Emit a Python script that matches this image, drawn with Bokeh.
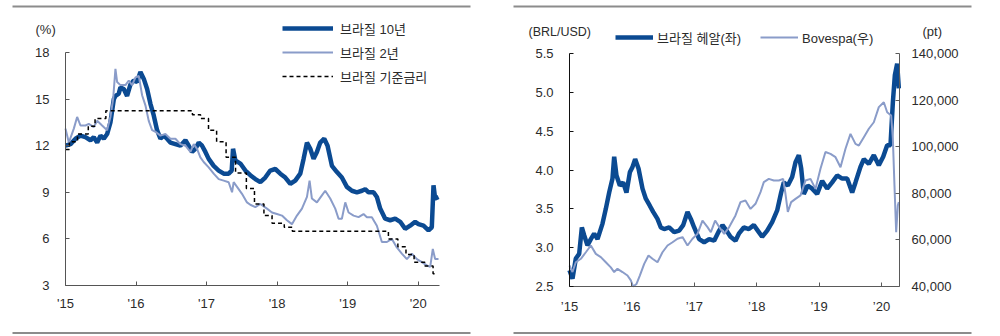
from bokeh.plotting import figure
from bokeh.models import (Range1d, LinearAxis, FixedTicker, Legend, LegendItem, Label,
                          BoxAnnotation, NumeralTickFormatter)
from bokeh.layouts import row
from bokeh.embed import file_html
from bokeh.resources import INLINE
import pandas as pd

# ---------------- data ----------------
year_ticks = [2015, 2016, 2017, 2018, 2019, 2020]
year_labels_l = ["'15", "'16", "'17", "'18", "'19", "'20"]
year_labels_r = ["\u201915", "\u201916", "\u201917", "\u201918", "\u201919", "\u201920"]

# Brazil 10Y yield (%)
y10_t = [2015.000, 2015.071, 2015.142, 2015.212, 2015.283, 2015.354, 2015.401, 2015.449, 2015.496, 2015.543,
         2015.590, 2015.637, 2015.685, 2015.708, 2015.755, 2015.779, 2015.826, 2015.873, 2015.921, 2015.968,
         2016.015, 2016.062, 2016.110, 2016.157, 2016.204, 2016.251, 2016.298, 2016.346, 2016.393, 2016.440,
         2016.487, 2016.558, 2016.629, 2016.700, 2016.747, 2016.794, 2016.841, 2016.889, 2016.936, 2016.983,
         2017.030, 2017.101, 2017.172, 2017.243, 2017.313, 2017.356, 2017.375, 2017.408, 2017.479, 2017.550,
         2017.620, 2017.691, 2017.762, 2017.832, 2017.903, 2017.974, 2018.045, 2018.116, 2018.187, 2018.257,
         2018.328, 2018.375, 2018.423, 2018.470, 2018.517, 2018.564, 2018.611, 2018.668, 2018.715, 2018.777,
         2018.848, 2018.918, 2018.989, 2019.060, 2019.131, 2019.202, 2019.249, 2019.296, 2019.367, 2019.414,
         2019.461, 2019.532, 2019.603, 2019.674, 2019.745, 2019.815, 2019.886, 2019.957, 2020.004, 2020.075,
         2020.146, 2020.193, 2020.217, 2020.240, 2020.288]
y10_v = [12.0, 12.1, 12.45, 12.65, 12.55, 12.35, 12.55, 12.2, 12.65, 12.45,
         12.75, 13.5, 15.0, 15.2, 15.35, 15.75, 15.65, 15.2, 15.95, 16.2,
         16.1, 16.75, 16.3, 15.65, 14.7, 13.95, 13.0, 12.45, 12.65, 12.45,
         12.2, 12.1, 12.0, 12.35, 12.0, 11.6, 11.8, 12.2, 12.0, 11.6,
         11.15, 10.7, 10.4, 10.2, 10.2, 10.4, 11.8, 11.05, 10.85, 10.4,
         10.1, 9.85, 9.65, 9.95, 10.4, 10.5, 10.2, 9.95, 9.55, 9.75,
         10.2, 11.15, 12.2, 11.8, 11.15, 11.6, 12.2, 12.45, 12.0, 10.7,
         10.3, 9.95, 9.35, 9.1, 9.0, 9.1, 9.2, 9.0, 9.0, 8.7,
         7.95, 7.3, 7.2, 7.3, 7.1, 6.65, 6.85, 7.1, 6.95, 6.85,
         6.55, 6.75, 9.45, 8.6, 8.7]

# Brazil 2Y yield (%)
y2_t = [2015.000, 2015.047, 2015.118, 2015.165, 2015.212, 2015.283, 2015.330, 2015.401, 2015.449, 2015.519,
        2015.590, 2015.637, 2015.675, 2015.708, 2015.732, 2015.779, 2015.850, 2015.897, 2015.944, 2015.992,
        2016.039, 2016.086, 2016.133, 2016.180, 2016.228, 2016.275, 2016.346, 2016.416, 2016.487, 2016.558,
        2016.629, 2016.700, 2016.771, 2016.818, 2016.865, 2016.912, 2016.959, 2017.030, 2017.101, 2017.172,
        2017.243, 2017.313, 2017.361, 2017.384, 2017.432, 2017.502, 2017.573, 2017.620, 2017.691, 2017.762,
        2017.856, 2017.927, 2017.998, 2018.069, 2018.139, 2018.210, 2018.281, 2018.352, 2018.423, 2018.460,
        2018.493, 2018.564, 2018.635, 2018.682, 2018.753, 2018.824, 2018.871, 2018.918, 2018.966, 2019.013,
        2019.084, 2019.154, 2019.225, 2019.273, 2019.343, 2019.414, 2019.485, 2019.556, 2019.627, 2019.697,
        2019.768, 2019.839, 2019.910, 2019.981, 2020.052, 2020.122, 2020.170, 2020.207, 2020.240, 2020.288]
y2_v = [13.1, 12.2, 13.1, 13.85, 13.3, 13.3, 13.4, 13.2, 13.6, 13.3,
        13.0, 13.85, 15.0, 16.95, 16.1, 15.9, 15.9, 16.2, 15.9, 16.4,
        16.5, 15.25, 14.6, 13.6, 13.0, 12.9, 12.65, 12.75, 12.45, 12.45,
        12.1, 12.0, 11.6, 12.1, 11.8, 11.25, 10.95, 10.6, 10.2, 9.85,
        9.75, 9.65, 9.0, 9.65, 9.35, 8.9, 8.35, 8.2, 8.05, 8.25,
        7.95, 7.7, 7.6, 7.5, 7.2, 6.95, 7.5, 7.95, 8.7, 9.75,
        8.6, 8.35, 8.8, 9.1, 8.6, 7.95, 7.3, 7.3, 8.35, 7.7,
        7.5, 7.4, 7.6, 7.4, 7.4, 6.85, 5.8, 5.8, 6.0, 5.45,
        5.05, 4.7, 5.05, 4.7, 4.5, 4.3, 4.2, 5.35, 4.7, 4.7]

# Brazil policy rate (%)
selic_dates = ["2015-01-01", "2015-01-21", "2015-03-04", "2015-04-29", "2015-06-03", "2015-07-29",
               "2016-10-19", "2016-11-30", "2017-01-11", "2017-02-22", "2017-04-12", "2017-05-31",
               "2017-07-26", "2017-09-06", "2017-10-25", "2017-12-06", "2018-02-07", "2018-03-21",
               "2019-07-31", "2019-09-18", "2019-10-30", "2019-12-11", "2020-02-05", "2020-03-18",
               "2020-04-01"]
selic_v = [11.75, 12.25, 12.75, 13.25, 13.75, 14.25,
           14.0, 13.75, 13.0, 12.25, 11.25, 10.25,
           9.25, 8.25, 7.5, 7.0, 6.75, 6.5,
           6.0, 5.5, 5.0, 4.5, 4.25, 3.75,
           3.75]

# BRL/USD
brl_t = [2015.000, 2015.048, 2015.101, 2015.155, 2015.198, 2015.235, 2015.288, 2015.342, 2015.395, 2015.449,
         2015.529, 2015.582, 2015.636, 2015.689, 2015.716, 2015.753, 2015.807, 2015.860, 2015.913, 2015.967,
         2016.010, 2016.052, 2016.106, 2016.170, 2016.223, 2016.287, 2016.341, 2016.410, 2016.464, 2016.517,
         2016.597, 2016.677, 2016.757, 2016.822, 2016.891, 2016.944, 2016.998, 2017.078, 2017.158, 2017.238,
         2017.318, 2017.399, 2017.452, 2017.532, 2017.580, 2017.660, 2017.714, 2017.794, 2017.874, 2017.954,
         2018.034, 2018.087, 2018.168, 2018.248, 2018.328, 2018.392, 2018.435, 2018.499, 2018.568, 2018.622,
         2018.675, 2018.713, 2018.755, 2018.819, 2018.889, 2018.969, 2019.049, 2019.129, 2019.209, 2019.289,
         2019.370, 2019.450, 2019.530, 2019.583, 2019.663, 2019.717, 2019.797, 2019.877, 2019.957, 2020.027,
         2020.091, 2020.144, 2020.182, 2020.214, 2020.251, 2020.278]
brl_v = [2.71, 2.6, 2.86, 2.92, 3.26, 3.16, 3.03, 3.11, 3.18, 3.11,
         3.31, 3.5, 3.71, 3.89, 4.17, 3.93, 3.8, 3.84, 3.71, 3.97,
         4.04, 4.14, 4.02, 3.76, 3.63, 3.54, 3.46, 3.37, 3.26, 3.24,
         3.26, 3.2, 3.22, 3.29, 3.46, 3.37, 3.26, 3.11, 3.07, 3.11,
         3.09, 3.22, 3.29, 3.2, 3.14, 3.09, 3.18, 3.26, 3.24, 3.29,
         3.2, 3.14, 3.22, 3.33, 3.48, 3.71, 3.84, 3.8, 3.91, 4.1,
         4.19, 4.02, 3.69, 3.8, 3.76, 3.69, 3.86, 3.76, 3.84, 3.93,
         3.89, 3.89, 3.71, 3.84, 4.04, 4.14, 4.08, 4.19, 4.06, 4.17,
         4.32, 4.32, 4.87, 5.22, 5.37, 5.05]

# Bovespa (pt)
bov_t = [2015.000, 2015.048, 2015.101, 2015.182, 2015.262, 2015.342, 2015.422, 2015.502, 2015.582, 2015.662,
         2015.716, 2015.769, 2015.849, 2015.929, 2015.983, 2016.020, 2016.074, 2016.127, 2016.197, 2016.266,
         2016.330, 2016.410, 2016.490, 2016.571, 2016.651, 2016.731, 2016.811, 2016.891, 2016.971, 2017.051,
         2017.131, 2017.212, 2017.265, 2017.334, 2017.399, 2017.479, 2017.559, 2017.660, 2017.740, 2017.820,
         2017.901, 2017.981, 2018.061, 2018.114, 2018.194, 2018.274, 2018.355, 2018.424, 2018.461, 2018.499,
         2018.552, 2018.622, 2018.702, 2018.782, 2018.862, 2018.942, 2019.022, 2019.102, 2019.183, 2019.263,
         2019.343, 2019.423, 2019.503, 2019.583, 2019.637, 2019.717, 2019.797, 2019.877, 2019.957, 2020.037,
         2020.091, 2020.155, 2020.182, 2020.208, 2020.235, 2020.262, 2020.278]
bov_v = [49000, 46200, 50400, 51900, 54700, 57600, 54000, 52600, 50400, 48200,
         46200, 47600, 46200, 44700, 42600, 40000, 41100, 44700, 49700, 53300,
         51900, 50400, 54700, 57600, 59000, 60500, 61200, 57600, 60500, 62600,
         68300, 65500, 63300, 68300, 65500, 62600, 65500, 70500, 76200, 76900,
         73300, 75500, 80500, 84800, 86200, 85500, 85500, 86200, 79800, 72000,
         76200, 77600, 79100, 85500, 86200, 81900, 90500, 97700, 96900, 95500,
         91200, 99100, 105500, 101200, 100500, 104100, 107700, 110500, 117000, 119100,
         114800, 113400, 103400, 83300, 63300, 74800, 76200]

# ---------------- style / layout constants ----------------
DARK = "#0b4a92"
LIGHT = "#8a9cc9"
TXT = "#2b2b2b"
FONT = "'Liberation Sans', 'Noto Sans CJK KR', sans-serif"
RULE = "#8c8c8c"
W, H = 500, 336

selic_t = [d.year + (d.dayofyear - 1) / 365.25 for d in pd.to_datetime(selic_dates)]


def style_axis(ax, line_color):
    ax.major_label_text_font = FONT
    ax.major_label_text_font_size = "13px"
    ax.major_label_text_color = TXT
    ax.axis_line_color = line_color
    ax.major_tick_line_color = line_color
    ax.major_tick_in = 4
    ax.major_tick_out = 0
    ax.minor_tick_line_color = None


def rules(p, x0, x1):
    for top in (H - 5, 4.5):
        p.add_layout(BoxAnnotation(left=x0, right=x1, top=top, bottom=top - 2,
                                   left_units="screen", right_units="screen",
                                   top_units="screen", bottom_units="screen",
                                   fill_color=RULE, fill_alpha=1, line_color=None))


def text(p, x, y, s, size="13px"):
    p.add_layout(Label(x=x, y=H - y, x_units="screen", y_units="screen", text=s,
                       text_baseline="middle", text_align="left", text_font=FONT,
                       text_font_size=size, text_color=TXT))


def base_fig(xr, yr):
    p = figure(width=W, height=H, output_backend="svg", toolbar_location=None,
               x_range=xr, y_range=yr, min_border=0,
               min_border_left=0, min_border_right=0, min_border_top=0, min_border_bottom=0)
    p.outline_line_color = None
    p.xgrid.visible = False
    p.ygrid.visible = False
    return p


# ---------------- left chart ----------------
# pixel anchors: 2015 at x=65, 70.54 px/year; value 3 at y=285, 233px per 15 units
lpx, lx0, ly0, lpv = 70.54, 65, 285, 233 / 15
p1 = base_fig(Range1d(2015 - lx0 / lpx, 2015 + (W - lx0) / lpx),
              Range1d(3 - (H - ly0) / lpv, 3 + ly0 / lpv))
p1.xaxis.fixed_location = 3
p1.xaxis.bounds = (2015, 2020.30)
p1.xaxis.ticker = FixedTicker(ticks=year_ticks)
p1.xaxis.major_label_overrides = dict(zip(year_ticks, year_labels_l))
p1.yaxis.fixed_location = 2015
p1.yaxis.bounds = (3, 18)
p1.yaxis.ticker = FixedTicker(ticks=[3, 6, 9, 12, 15, 18])
style_axis(p1.xaxis[0], "#555555")
style_axis(p1.yaxis[0], "#555555")
p1.xaxis.major_label_standoff = 10
p1.yaxis.major_label_standoff = 16

r10 = p1.line(y10_t, y10_v, line_color=DARK, line_width=4.5)
r2 = p1.line(y2_t, y2_v, line_color=LIGHT, line_width=2)
rs = p1.step(selic_t, selic_v, mode="after", line_color="black", line_width=1.5, line_dash="4 3")

leg1 = Legend(items=[LegendItem(label="브라질 10년", renderers=[r10]),
                     LegendItem(label="브라질 2년", renderers=[r2]),
                     LegendItem(label="브라질 기준금리", renderers=[rs])],
              location=(282, H - 86), glyph_width=51, glyph_height=20, label_height=20,
              spacing=4, padding=0, margin=0, label_standoff=7,
              border_line_color=None, background_fill_alpha=0,
              label_text_font=FONT, label_text_font_size="13px", label_text_color=TXT)
p1.add_layout(leg1)
text(p1, 35, 29, "(%)")
rules(p1, 12, 470)

# ---------------- right chart ----------------
# pixel anchors: 2015 at x=69, 62.4 px/year; 2.5 at y=286, 233 px per 3 units
rpx, rx0, ry0, rpv = 62.4, 69, 286, 233 / 3
ppv = 233 / 100000
p2 = base_fig(Range1d(2015 - rx0 / rpx, 2015 + (W - rx0) / rpx),
              Range1d(2.5 - (H - ry0) / rpv, 2.5 + ry0 / rpv))
p2.extra_y_ranges = {"pt": Range1d(40000 - (H - ry0) / ppv, 40000 + ry0 / ppv)}
p2.xaxis.fixed_location = 2.5
p2.xaxis.bounds = (2015, 2020.29)
p2.xaxis.ticker = FixedTicker(ticks=year_ticks)
p2.xaxis.major_label_overrides = dict(zip(year_ticks, year_labels_r))
p2.yaxis.fixed_location = 2015
p2.yaxis.bounds = (2.5, 5.5)
p2.yaxis.ticker = FixedTicker(ticks=[2.5, 3.0, 3.5, 4.0, 4.5, 5.0, 5.5])
p2.yaxis.formatter = NumeralTickFormatter(format="0.0")
style_axis(p2.xaxis[0], "#5a5a5a")
style_axis(p2.yaxis[0], "#111111")
p2.xaxis.major_label_standoff = 12
p2.yaxis.major_label_standoff = 16

ax_r = LinearAxis(y_range_name="pt", fixed_location=2020.29, bounds=(40000, 140000),
                  ticker=FixedTicker(ticks=[40000, 60000, 80000, 100000, 120000, 140000]),
                  formatter=NumeralTickFormatter(format="0,0"))
style_axis(ax_r, "#5a5a5a")
ax_r.major_label_standoff = 12
p2.add_layout(ax_r, "right")

rb = p2.line(brl_t, brl_v, line_color=DARK, line_width=4.5)
rv = p2.line(bov_t, bov_v, line_color=LIGHT, line_width=2, y_range_name="pt")

leg2 = Legend(items=[LegendItem(label="브라질 헤알(좌)", renderers=[rb]),
                     LegendItem(label="Bovespa(우)", renderers=[rv])],
              location=(115, H - 47), orientation="horizontal", glyph_width=38, glyph_height=20,
              label_height=20, spacing=19, padding=0, margin=0, label_standoff=4,
              border_line_color=None, background_fill_alpha=0,
              label_text_font=FONT, label_text_font_size="13px", label_text_color=TXT)
p2.add_layout(leg2)
text(p2, 28, 31, "(BRL/USD)", "12.5px")
text(p2, 422, 31, "(pt)")
rules(p2, 13, 471)

layout = row(p1, p2)
open("out.html", "w").write(file_html(layout, INLINE))
